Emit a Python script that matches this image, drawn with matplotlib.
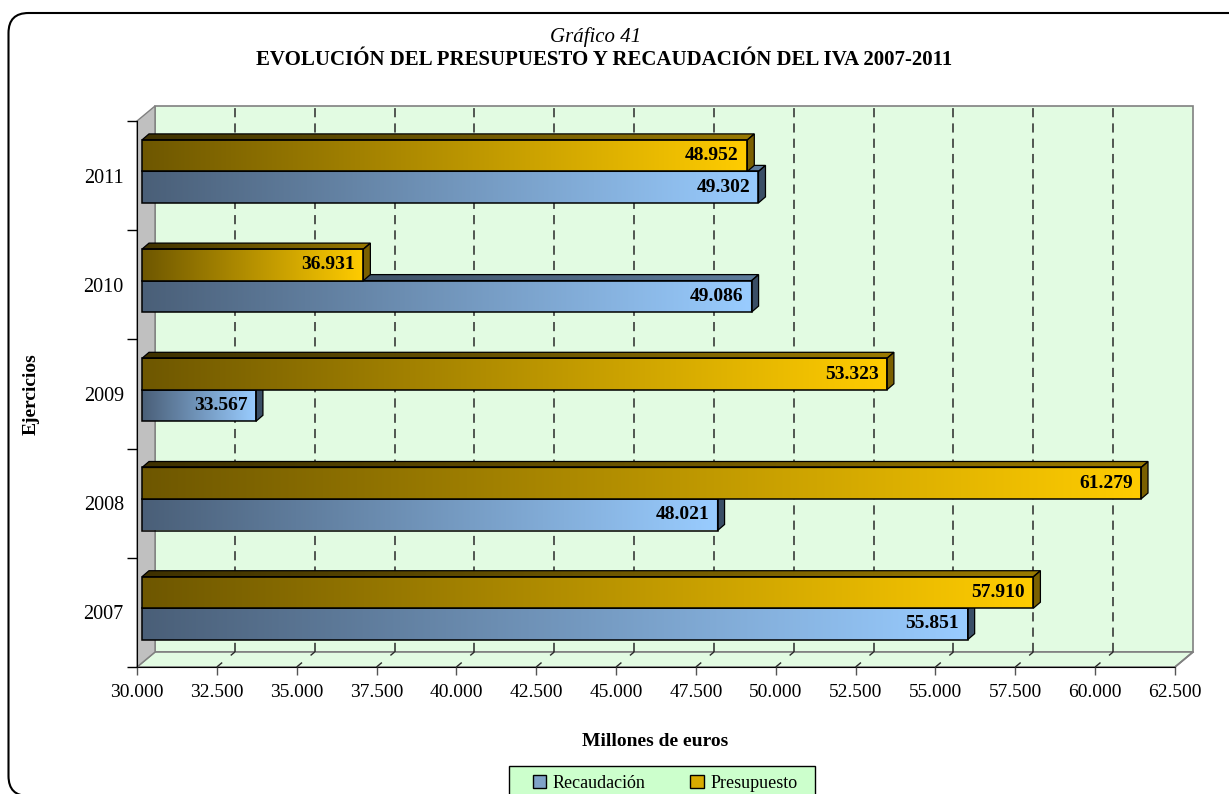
import matplotlib
matplotlib.use("Agg")
import matplotlib.pyplot as plt
import numpy as np
from matplotlib.patches import Polygon, Patch, FancyBboxPatch, Rectangle
from matplotlib.colors import to_rgb
from matplotlib.ticker import FixedLocator, NullFormatter

# ---------------- data ----------------
years = ["2007", "2008", "2009", "2010", "2011"]
recaudacion = [55851, 48021, 33567, 49086, 49302]
presupuesto = [57910, 61279, 53323, 36931, 48952]
x_ticks = [30000 + 2500 * i for i in range(14)]
x_tick_labels = [f"{t:,}".replace(",", ".") for t in x_ticks]
series_names = ["Recaudación", "Presupuesto"]

plt.rcParams['font.family'] = ['Liberation Serif', 'DejaVu Serif']

W, H = 1229, 794
fig = plt.figure(figsize=(W / 100, H / 100), dpi=100)
fig.patch.set_facecolor("white")

# axes = front plane of the 3D box (pixel geometry of the reference)
L, R, T, B = 137, 1175, 121, 667
ax = fig.add_axes([L / W, 1 - B / H, (R - L) / W, (B - T) / H])
XMIN, XMAX = 30000, 62500
ax.set_xlim(XMIN, XMAX)
ax.set_ylim(-0.5, 4.5)
ax.set_facecolor("none")

pxx = (R - L) / (XMAX - XMIN)   # pixels per value unit
pxy = (B - T) / 5.0             # pixels per category unit

def dxv(p):
    return p / pxx

def dyv(p):
    return p / pxy

# depth of walls
WX, WY = dxv(18), dyv(15)
# bar plane offset and bar depth
BX, BY = dxv(5), dyv(4.2)
DBX, DBY = dxv(7), dyv(6)
BH = dyv(31.5)

wall_col = "#E2FBE2"
# back wall
ax.add_patch(Polygon([(XMIN + WX, -0.5 + WY), (XMAX + WX, -0.5 + WY),
                      (XMAX + WX, 4.5 + WY), (XMIN + WX, 4.5 + WY)],
                     closed=True, facecolor=wall_col, edgecolor="#808080",
                     lw=1.2, clip_on=False, zorder=0))
# floor
ax.add_patch(Polygon([(XMIN, -0.5), (XMAX, -0.5), (XMAX + WX, -0.5 + WY),
                      (XMIN + WX, -0.5 + WY)],
                     closed=True, facecolor=wall_col, edgecolor="#808080",
                     lw=1.2, clip_on=False, zorder=0))
# side wall
ax.add_patch(Polygon([(XMIN, -0.5), (XMIN + WX, -0.5 + WY), (XMIN + WX, 4.5 + WY),
                      (XMIN, 4.5)],
                     closed=True, facecolor="#C0C0C0", edgecolor="#808080",
                     lw=1.0, clip_on=False, zorder=0.5))

# gridlines on back wall and floor
for t in x_ticks[1:-1]:
    ax.plot([t + WX, t + WX], [-0.5 + WY, 4.5 + WY], color="#2A2A2A", lw=1.1,
            ls=(0, (6, 4)), clip_on=False, zorder=1)
    ax.plot([t, t + WX], [-0.5, -0.5 + WY], color="#2A2A2A", lw=1.0,
            ls=(0, (5, 8)), clip_on=False, zorder=1)


def grad_img(x0, x1, y0, y1, c0, c1, clip_poly, z):
    c0 = np.array(to_rgb(c0))
    c1 = np.array(to_rgb(c1))
    t = np.linspace(0, 1, 256)[None, :, None]
    img = c0 + (c1 - c0) * t
    im = ax.imshow(img, extent=(x0, x1, y0, y1), aspect="auto",
                   interpolation="bilinear", zorder=z, origin="lower")
    im.set_clip_path(clip_poly)


def bar3d(v, yb, front, top, side, z):
    x0 = XMIN + BX
    x1 = v + BX
    yt = yb + BH
    # front face
    fp = Polygon([(x0, yb), (x1, yb), (x1, yt), (x0, yt)], closed=True,
                 facecolor="none", edgecolor="black", lw=1.1, zorder=z + 0.3)
    ax.add_patch(fp)
    grad_img(x0, x1, yb, yt, front[0], front[1], fp, z)
    # top face
    tp = Polygon([(x0, yt), (x1, yt), (x1 + DBX, yt + DBY), (x0 + DBX, yt + DBY)],
                 closed=True, facecolor="none", edgecolor="black", lw=0.9,
                 zorder=z + 0.3)
    ax.add_patch(tp)
    grad_img(x0, x1 + DBX, yt, yt + DBY, top[0], top[1], tp, z)
    # side face
    sp = Polygon([(x1, yb), (x1 + DBX, yb + DBY), (x1 + DBX, yt + DBY), (x1, yt)],
                 closed=True, facecolor=side, edgecolor="black", lw=0.9,
                 zorder=z + 0.2)
    ax.add_patch(sp)


blue = (("#4A5F78", "#99CCFF"), ("#2E3B4A", "#5E7C9C"), "#3A4E66")
gold = (("#6E5700", "#FFCC00"), ("#3E3100", "#9A7A00"), "#7A6000")

LBL = 14
z = 2
for i in range(len(years)):
    base = i + BY
    # blue (Recaudación) below, gold (Presupuesto) above
    bar3d(recaudacion[i], base - BH, blue[0], blue[1], blue[2], z)
    ax.annotate(f"{recaudacion[i]:,}".replace(",", "."),
                xy=(recaudacion[i] + BX, base - BH / 2), xytext=(-6, 0),
                textcoords="offset points", ha="right", va="center",
                fontsize=LBL, fontweight="bold", zorder=z + 0.5)
    z += 1
    bar3d(presupuesto[i], base, gold[0], gold[1], gold[2], z)
    ax.annotate(f"{presupuesto[i]:,}".replace(",", "."),
                xy=(presupuesto[i] + BX, base + BH / 2), xytext=(-6, 0),
                textcoords="offset points", ha="right", va="center",
                fontsize=LBL, fontweight="bold", zorder=z + 0.5)
    z += 1

# axes spines/ticks
for s in ["top", "right"]:
    ax.spines[s].set_visible(False)
ax.spines["bottom"].set_color("black")
ax.spines["left"].set_color("black")
ax.spines["bottom"].set_zorder(1.5)
ax.spines["left"].set_zorder(1.5)
# floor right edge
ax.plot([XMAX, XMAX + WX], [-0.5, -0.5 + WY], color="#808080", lw=1.2,
        clip_on=False, zorder=1)

ax.set_xticks(x_ticks)
ax.set_xticklabels(x_tick_labels, fontsize=14)
ax.tick_params(axis="x", direction="out", length=6, width=1, color="#555555",
               pad=6)
ax.yaxis.set_major_locator(FixedLocator([-0.5, 0.5, 1.5, 2.5, 3.5, 4.5]))
ax.yaxis.set_major_formatter(NullFormatter())
ax.yaxis.set_minor_locator(FixedLocator(list(range(len(years)))))
ax.set_yticklabels(years, minor=True, fontsize=14.5)
ax.tick_params(axis="y", which="major", direction="out", length=7, width=1)
ax.tick_params(axis="y", which="minor", length=0, pad=9.5)

ax.set_ylabel("Ejercicios", fontsize=14, fontweight="bold")
ax.yaxis.set_label_coords(-0.094, 0.5)
ax.set_xlabel("Millones de euros", fontsize=14, fontweight="bold")
ax.xaxis.set_label_coords(0.499, -0.12)

# titles
fig.text(596 / W, 1 - 37 / H, "Gráfico 41", ha="center", va="center",
         fontsize=15, style="italic")
fig.text(604 / W, 1 - 60 / H,
         "EVOLUCIÓN DEL PRESUPUESTO Y RECAUDACIÓN DEL IVA 2007-2011",
         ha="center", va="center", fontsize=15, fontweight="bold")

# legend (frame drawn separately)
fig.add_artist(Rectangle((509 / W, 1 - 800 / H), (815 - 509) / W, 34 / H,
                         transform=fig.transFigure, facecolor="#CCFFCC",
                         edgecolor="black", lw=1.0, zorder=3))
handles = [Patch(facecolor="#7FA3C8", edgecolor="black", lw=1.0),
           Patch(facecolor="#D8AC00", edgecolor="black", lw=1.0)]
leg = fig.legend(handles, series_names, loc="center",
                 bbox_to_anchor=(665 / W, 1 - 783 / H), ncol=2,
                 fontsize=13, frameon=False,
                 handlelength=0.75, handleheight=0.75, handletextpad=0.35,
                 columnspacing=2.5, borderpad=0.2)
leg.set_zorder(4)

# rounded outer border
border = FancyBboxPatch((0.085, -0.02), 13.0, 7.81 + 0.02,
                        boxstyle="round,pad=0,rounding_size=0.2",
                        transform=fig.dpi_scale_trans, fill=False,
                        edgecolor="black", lw=1.5)
fig.add_artist(border)

fig.savefig("out.png", dpi=100)
